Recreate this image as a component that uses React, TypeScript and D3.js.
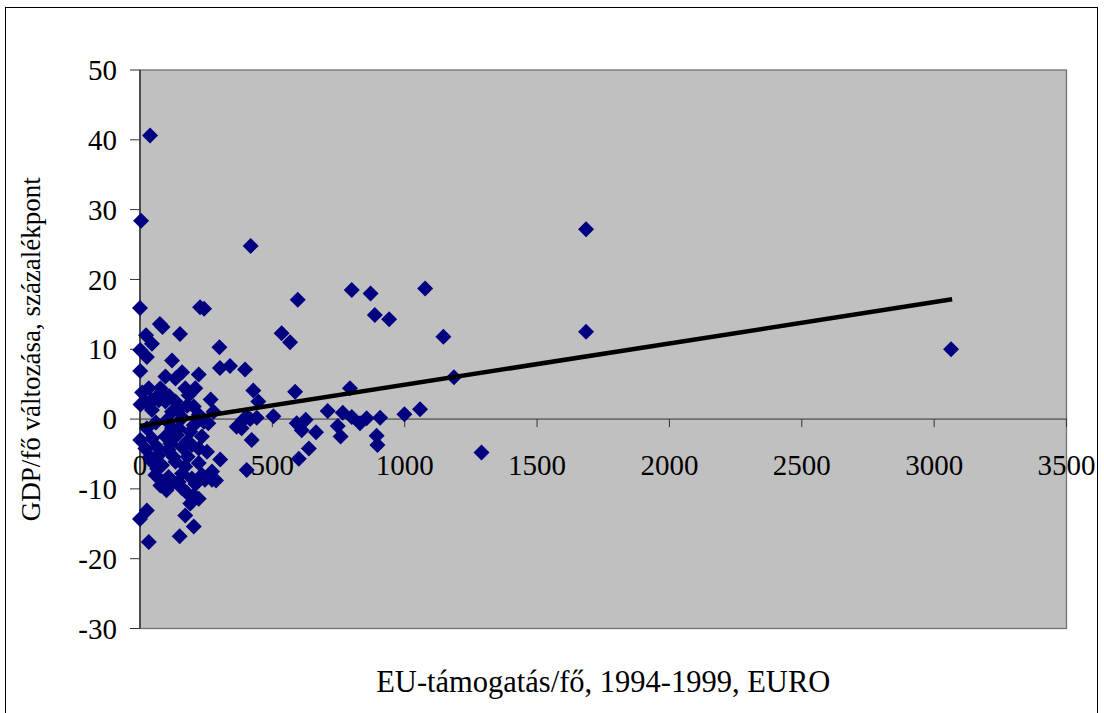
import React from "react";
import * as d3 from "d3";

// EU support per capita (EURO) and GDP/capita change (percentage points)
const supportEuro: number[] = [
  38, 4, 418, 1685, 0, 227, 242, 596, 75, 85, 23, 45, 151, 535, 567, 1, 26, 300, 121, 1,
  96, 159, 134, 222, 302, 340, 397, 428, 447, 586, 800, 871, 1077, 887, 941, 1146, 1186, 793, 1685, 3064,
  1290, 709, 766, 800, 831, 856, 907, 999, 1058, 626, 611, 665, 747, 758, 894, 897, 638, 600, 504, 416,
  441, 403, 365, 384, 422, 303, 403, 287, 592, 33, 77, 171, 209, 267, 8, 83, 184, 2, 20, 45,
  71, 96, 134, 178, 203, 45, 121, 146, 222, 278, 26, 121, 146, 203, 241, 1, 45, 96, 140, 178,
  234, 20, 64, 108, 159, 196, 222, 253, 45, 83, 134, 171, 222, 272, 58, 108, 159, 196, 234, 272,
  77, 159, 178, 203, 222, 190, 171, 203, 150, 0, 26, 33, 121, 146, 245, 258, 38, 126, 88, 390,
  60, 110, 100, 60, 160, 190, 115, 70, 180, 210, 100, 65,
];
const gdpChange: number[] = [
  40.6, 28.4, 24.8, 27.2, 15.9, 16.0, 15.8, 17.1, 13.6, 13.2, 12.0, 10.8, 12.2, 12.3, 11.0, 9.9, 8.9, 10.3, 8.4, 6.9,
  6.1, 6.7, 5.8, 6.4, 7.3, 7.6, 7.1, 4.1, 2.5, 3.9, 18.5, 18.0, 18.7, 14.9, 14.3, 11.8, 6.0, 4.4, 12.5, 10.0,
  -4.8, 1.15, 0.9, 0.3, -0.6, 0.1, 0.2, 0.7, 1.4, -0.1, -1.6, -1.9, -1.0, -2.5, -2.4, -3.7, -4.2, -5.7, 0.4, 0.0,
  0.2, 0.3, -1.1, -1.3, -3.0, -5.8, -7.3, -8.8, -0.6, 4.4, 4.4, 4.4, 4.4, 2.8, 3.8, 3.9, 3.4, 2.1, 2.5, 2.7,
  2.7, 2.5, 2.5, 1.9, 1.8, 1.3, 1.05, 1.3, 0.6, 1.05, -1.3, -1.3, -1.3, -0.9, -0.4, -3.0, -2.8, -2.5, -2.3, -3.2,
  -2.5, -4.2, -4.0, -4.4, -4.0, -3.7, -4.2, -4.7, -6.1, -6.6, -6.1, -6.8, -6.3, -7.5, -8.0, -8.3, -7.8, -8.5, -8.0, -8.7,
  -9.5, -9.9, -10.6, -10.9, -11.4, -12.1, -13.8, -15.4, -16.8, -14.3, -13.1, -17.6, -9.2, -9.0, -8.7, -0.6, -5.4, -5.4, -9.0, -0.1,
  3.0, 3.3, -0.2, -0.5, 0.2, -1.8, -3.5, -5.2, -5.4, -9.3, -10.2, -7.1,
];

// linear trend line end points
const trendX: number[] = [0, 3068];
const trendY: number[] = [-1.0, 17.15];

const xTicks: number[] = [0, 500, 1000, 1500, 2000, 2500, 3000, 3500];
const yTicks: number[] = [-30, -20, -10, 0, 10, 20, 30, 40, 50];

const xTitle = "EU-támogatás/fő, 1994-1999, EURO";
const yTitle = "GDP/fő változása, százalékpont";

const W = 1104;
const H = 713;
const PL = 140;
const PR = 1066.5;
const PT = 70;
const PB = 628.5;
const FONT = "'Liberation Serif', 'Times New Roman', serif";

export default function App() {
  const x = d3.scaleLinear().domain([0, 3500]).range([PL, PR]);
  const y = d3.scaleLinear().domain([-30, 50]).range([PB, PT]);
  const diamond = d3.symbol().type(d3.symbolSquare).size(128)()!;
  const points = supportEuro.map((v, i) => ({ x: v, y: gdpChange[i] }));
  const trend = d3
    .line<number>()
    .x((d) => x(d))
    .y((_, i) => y(trendY[i]))(trendX)!;

  return (
    <svg
      width={W}
      height={H}
      style={{ position: "absolute", left: 0, top: 0, background: "#fff" }}
      fontFamily={FONT}
    >
      <rect x={5.5} y={7.5} width={1092} height={720} fill="#fff" stroke="#000" strokeWidth={1} />
      <rect x={PL} y={PT} width={PR - PL} height={PB - PT} fill="#c0c0c0" stroke="#707070" strokeWidth={1.3} />
      {/* y axis */}
      <line x1={PL} x2={PL} y1={PT} y2={PB} stroke="#333" strokeWidth={1.5} />
      {yTicks.map((t) => (
        <g key={"y" + t}>
          <line x1={PL - 10} x2={PL} y1={y(t)} y2={y(t)} stroke="#333" strokeWidth={1} />
          <text x={117} y={y(t)} dy="0.35em" textAnchor="end" fontSize={29} fill="#000">
            {t}
          </text>
        </g>
      ))}
      {/* x axis at y=0 */}
      <line x1={PL} x2={PR} y1={y(0)} y2={y(0)} stroke="#333" strokeWidth={1} />
      {xTicks.map((t) => (
        <g key={"x" + t}>
          <line x1={x(t)} x2={x(t)} y1={y(0)} y2={y(0) + 8} stroke="#333" strokeWidth={1} />
          <text x={x(t)} y={y(0) + 56} textAnchor="middle" fontSize={29} fill="#000">
            {t}
          </text>
        </g>
      ))}
      {/* points */}
      {points.map((p, i) => (
        <path
          key={i}
          d={diamond}
          transform={`translate(${x(p.x)},${y(p.y)}) rotate(45)`}
          fill="#000080"
        />
      ))}
      {/* trend line */}
      <path d={trend} fill="none" stroke="#000" strokeWidth={4.5} />
      <text x={(PL + PR) / 2} y={692} textAnchor="middle" fontSize={30.5} fill="#000">
        {xTitle}
      </text>
      <text
        transform={`translate(40,${(PT + PB) / 2}) rotate(-90)`}
        textAnchor="middle"
        fontSize={27}
        fill="#000"
      >
        {yTitle}
      </text>
    </svg>
  );
}
